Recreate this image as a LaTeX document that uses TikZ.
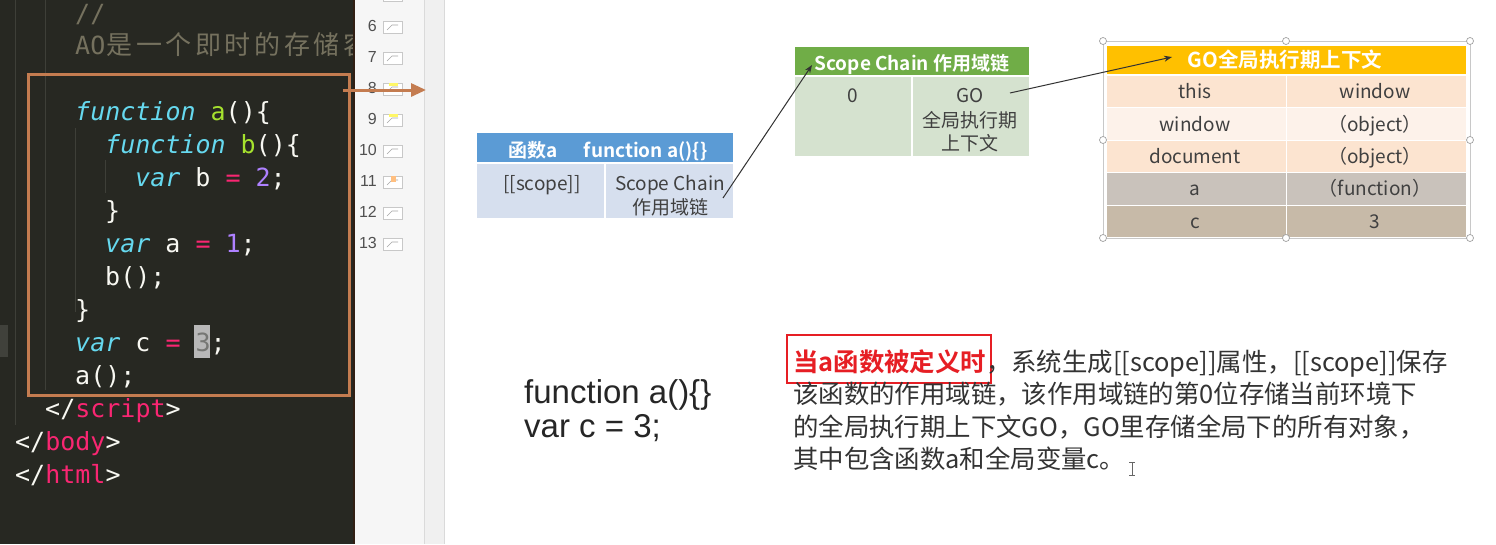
\documentclass[tikz,border=0pt]{standalone}
\usepackage{fontspec}
\setmainfont{Liberation Sans}
\newfontfamily\cjk{Noto Sans CJK SC}[BoldFont={Noto Sans CJK SC Bold}]
\newfontfamily\codefont{DejaVu Sans Mono}
\newfontfamily\uifont{Liberation Sans}
\usetikzlibrary{arrows.meta}

\definecolor{edbg}{RGB}{39,40,34}
\definecolor{guide}{RGB}{62,63,56}
\definecolor{cmt}{RGB}{117,113,94}
\definecolor{kwc}{RGB}{102,217,239}
\definecolor{fnc}{RGB}{166,226,46}
\definecolor{opc}{RGB}{249,38,114}
\definecolor{numc}{RGB}{174,129,255}
\definecolor{cfg}{RGB}{248,248,242}
\definecolor{orng}{RGB}{196,124,80}
\definecolor{panel}{RGB}{246,246,246}
\definecolor{strip}{RGB}{240,240,240}
\definecolor{edgeline}{RGB}{218,218,218}
\definecolor{blueH}{RGB}{91,155,213}
\definecolor{blueB}{RGB}{214,223,238}
\definecolor{greenH}{RGB}{112,173,71}
\definecolor{greenB}{RGB}{213,226,207}
\definecolor{goldH}{RGB}{255,192,0}
\definecolor{peach}{RGB}{252,228,208}
\definecolor{peachL}{RGB}{253,242,234}
\definecolor{grayR}{RGB}{201,194,187}
\definecolor{tanR}{RGB}{199,186,168}
\definecolor{celltext}{RGB}{64,64,64}
\definecolor{redc}{RGB}{230,30,36}
\definecolor{paratext}{RGB}{51,51,51}
\definecolor{numgray}{RGB}{80,80,80}
\definecolor{thumbc}{RGB}{200,200,200}
\definecolor{selc}{RGB}{200,200,200}
\definecolor{ptrc}{RGB}{50,50,50}

\newcommand{\kwd}[1]{{\itshape\color{kwc}#1}}
\newcommand{\fnm}[1]{{\color{fnc}#1}}
\newcommand{\opr}[1]{{\color{opc}#1}}
\newcommand{\nmb}[1]{{\color{numc}#1}}
\newcommand{\tgn}[1]{{\color{opc}#1}}

\tikzset{
  code/.style={anchor=base west, inner sep=0, font=\codefont\fontsize{25}{25}\selectfont, text=cfg},
  cmtch/.style={anchor=base, inner sep=0, font=\cjk\fontsize{26}{26}\selectfont, text=cmt},
  cell/.style={anchor=base, inner sep=0, font=\cjk\fontsize{19}{24}\selectfont, text=celltext},
  hdr/.style={anchor=base, inner sep=0, font=\cjk\bfseries\fontsize{19}{24}\selectfont, text=white},
  ptr/.style={draw=ptrc, line width=1pt, -{Stealth[length=8pt,width=6pt]}},
  para/.style={anchor=base west, inner sep=0, font=\cjk\fontsize{25.4}{32}\selectfont, text=paratext},
  snum/.style={anchor=east, inner sep=0, font=\uifont\fontsize{16}{16}\selectfont, text=numgray},
  thumb/.style={draw=thumbc, fill=white, line width=0.8pt},
  handle/.style={draw=selc!80!black, fill=white, line width=0.7pt},
  bigcode/.style={anchor=base west, inner sep=0, font=\fontsize{33}{33}\selectfont, text=black!85},
}

\begin{document}
\begin{tikzpicture}[x=1pt,y=-1pt]
\useasboundingbox (0,0) rectangle (1496,544);
\fill[white] (0,0) rectangle (1496,544);

% ---------------- editor ----------------
\begin{scope}
\clip (0,0) rectangle (353,544);
\fill[edbg] (0,0) rectangle (353,544);
\fill[guide!80!white!40!edbg] (0,325) rectangle (8,357);
\draw[guide, line width=1pt] (15,0) -- (15,425);
\draw[guide, line width=1pt] (45,0) -- (45,390);
\draw[guide, line width=1pt] (75,128) -- (75,312);
\draw[guide, line width=1pt] (105,160) -- (105,193);
\node[code, text=cmt] (c0) at (75,22) {//};
\node[code, text=cmt] (c1) at (75,54) {AO};
\foreach \ch [count=\i from 0] in {是,一,个,即,时,的,存,储,容}
  \node[cmtch] (cm\i) at (119.5+29.6*\i,54) {\ch};
\fill[black!28] (194,325) rectangle (210,358);
\node[code] (l0) at (75,120) {\kwd{function} \fnm{a}()\{};
\node[code] (l1) at (105,153) {\kwd{function} \fnm{b}()\{};
\node[code] (l2) at (135,186) {\kwd{var} b \opr{=} \nmb{2};};
\node[code] (l3) at (105,219) {\}};
\node[code] (l4) at (105,252) {\kwd{var} a \opr{=} \nmb{1};};
\node[code] (l5) at (105,285) {b();};
\node[code] (l6) at (75,318) {\}};
\node[code] (l7) at (75,351) {\kwd{var} c \opr{=} {\color{edbg!70!black!60}3};};
\node[code] (l8) at (75,384) {a();};
\node[code] (l9) at (45,417) {</\tgn{script}>};
\node[code] (l10) at (15,450) {</\tgn{body}>};
\node[code] (l11) at (15,483) {</\tgn{html}>};
\end{scope}
\fill[black!75!orng] (353,0) rectangle (355,544);

% ---------------- slide panel ----------------
\fill[panel] (355,0) rectangle (424,544);
\fill[strip] (424,0) rectangle (445,544);
\draw[edgeline, line width=1pt] (424,0) -- (424,544);
\draw[edgeline, line width=1pt] (444.5,0) -- (444.5,544);
\begin{scope}
\clip (355,0) rectangle (424,544);
\draw[thumb] (383,-11) rectangle (402,1);
\foreach \n [count=\k from 0] in {6,7,8,9,10,11,12,13}{
  \node[snum] (sn\n) at (377,26+31*\k) {\n};
  \draw[thumb] (383,21+31*\k) rectangle (402,33+31*\k);
  \draw[black!35, line width=0.6pt] (387,30+31*\k) -- (392,25+31*\k) -- (398,25+31*\k);
}
\fill[yellow!60] (389,83) rectangle (398,86);
\fill[yellow!60] (389,114) rectangle (398,117);
\fill[orange!50] (391,176) rectangle (396,182);
\end{scope}

% ---------------- orange highlight ----------------
\node[draw=orng, line width=2.5pt, minimum width=321pt, minimum height=321pt, inner sep=0, anchor=north west] (codebox) at (27,73) {};
\coordinate (oaS) at (343,90);
\coordinate (oaE) at (426,90);
\draw[orng, line width=3pt, -{Triangle[length=15pt,width=13pt]}] (oaS) -- (oaE);

% ---------------- function a table ----------------
\fill[blueH] (477,133) rectangle (733,162);
\fill[blueB] (477,164) rectangle (733,218);
\draw[white, line width=1.5pt] (605,164) -- (605,218);
\node[hdr] (fah) at (608,157) {函数a\hspace{26pt}function a()\{\}};
\node[cell] (fas) at (542,190) {[[scope]]};
\node[cell] (fac1) at (670,190) {Scope Chain};
\node[cell] (fac2) at (670,214) {作用域链};

% ---------------- scope chain table ----------------
\fill[greenH] (795,47) rectangle (1029,75);
\fill[greenB] (795,77) rectangle (1029,156);
\draw[white, line width=1.5pt] (912,77) -- (912,156);
\node[hdr] (sch) at (912,70) {Scope Chain 作用域链};
\node[cell] (sc0) at (853,102) {0};
\node[cell] (scg1) at (970,102) {GO};
\node[cell] (scg2) at (970,127) {全局执行期};
\node[cell] (scg3) at (970,150) {上下文};

% ---------------- GO table ----------------
\draw[selc, line width=0.8pt] (1103,41) rectangle (1470,238);
\fill[goldH] (1107,46) rectangle (1466,74);
\fill[peach] (1107,75.5) rectangle (1466,107);
\fill[peachL] (1107,108) rectangle (1466,140);
\fill[peach] (1107,141) rectangle (1466,172);
\fill[grayR] (1107,173) rectangle (1466,204.5);
\fill[tanR] (1107,205.5) rectangle (1466,237);
\draw[white, line width=1pt] (1286,75.5) -- (1286,237);
\node[hdr, font=\cjk\bfseries\fontsize{20.5}{24}\selectfont] (goh) at (1285,67) {GO全局执行期上下文};
\node[cell] (g1a) at (1195,98) {this};
\node[cell] (g1b) at (1375,98) {window};
\node[cell] (g2a) at (1195,131) {window};
\node[cell] (g2b) at (1375,131) {（object）};
\node[cell] (g3a) at (1195,163) {document};
\node[cell] (g3b) at (1375,163) {（object）};
\node[cell] (g4a) at (1195,195.5) {a};
\node[cell] (g4b) at (1375,195.5) {（function）};
\node[cell] (g5a) at (1195,228) {c};
\node[cell] (g5b) at (1375,228) {3};
\foreach \hx/\hy in {1103/41,1286/41,1470/41,1103/140,1470/140,1103/238,1286/238,1470/238}
  \draw[handle] (\hx,\hy) circle (3.5pt);

% ---------------- pointers ----------------
\coordinate (p1s) at (723,198);
\coordinate (p1e) at (812,65);
\coordinate (p2s) at (1010,93);
\coordinate (p2e) at (1172,57);
\draw[ptr] (p1s) -- (p1e);
\draw[ptr] (p2s) -- (p2e);

% ---------------- bottom texts ----------------
\node[bigcode] (bc1) at (524,403) {function a()\{\}};
\node[bigcode] (bc2) at (524,437) {var c = 3;};

\node[draw=redc, line width=2pt, minimum width=204pt, minimum height=48pt, inner sep=0, anchor=north west] (redbox) at (786,334) {};
\node[para] (pl1) at (793,371) {{\bfseries\color{redc}当a函数被定义时}，系统生成[[scope]]属性，[[scope]]保存};
\node[para] (pl2) at (793,403.5) {该函数的作用域链，该作用域链的第0位存储当前环境下};
\node[para] (pl3) at (793,436) {的全局执行期上下文GO，GO里存储全局下的所有对象，};
\node[para] (pl4) at (793,468) {其中包含函数a和全局变量c。};
\coordinate (cur1) at (1132,462);
\coordinate (cur2) at (1132,475);
\draw[black!60, line width=1pt] (cur1) -- (cur2);
\draw[black!60, line width=0.8pt] ([xshift=-3pt]cur1) -- ([xshift=3pt]cur1);
\draw[black!60, line width=0.8pt] ([xshift=-3pt]cur2) -- ([xshift=3pt]cur2);
\end{tikzpicture}
\end{document}
